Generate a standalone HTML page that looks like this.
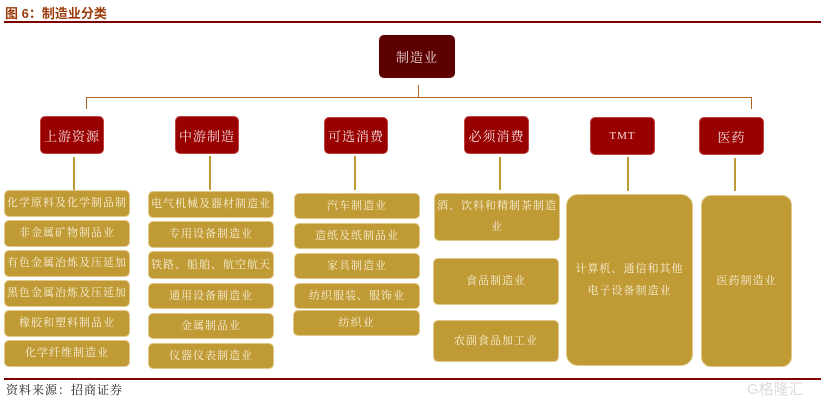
<!DOCTYPE html>
<html><head><meta charset="utf-8"><style>
body{margin:0;width:821px;height:401px;background:#fff;position:relative;overflow:hidden;font-family:"Liberation Serif","Noto Serif CJK SC",serif}
.a{position:absolute;box-sizing:border-box;display:flex;align-items:center;justify-content:center;text-align:center}
.r{background:#990000;color:#f4dede;border-radius:5px;font-size:13px;border:1px solid #c04040;letter-spacing:1px}
.g{background:#c09a35;color:#f7efd6;border-radius:5px;font-size:11px;border:1px solid #e0c98a;line-height:21px;padding:0 1px;letter-spacing:1px}
.v{position:absolute;width:2px;background:#c09a35}
.l{position:absolute;background:#b0621e}
</style></head><body>
<div style="position:absolute;left:5px;top:3px;font-family:'Liberation Sans','Noto Sans CJK SC',sans-serif;font-weight:bold;font-size:13px;color:#9a3a0a">图 6：制造业分类</div>
<div style="position:absolute;left:4px;top:21px;width:817px;height:2px;background:#7f0000"></div>

<div class="a" style="left:379px;top:35px;width:76px;height:43px;background:#5c0000;color:#f0dede;border-radius:5px;font-size:13px;letter-spacing:1px">制造业</div>
<div class="l" style="left:418px;top:85px;width:1px;height:13px"></div>
<div class="l" style="left:86px;top:97px;width:666px;height:1px"></div>
<div class="l" style="left:86px;top:97px;width:1px;height:12px"></div>
<div class="l" style="left:751px;top:97px;width:1px;height:12px"></div>

<div class="a r" style="left:40px;top:116px;width:64px;height:38px">上游资源</div>
<div class="a r" style="left:175px;top:116px;width:64px;height:38px">中游制造</div>
<div class="a r" style="left:324px;top:117px;width:64px;height:37px">可选消费</div>
<div class="a r" style="left:464px;top:116px;width:65px;height:38px">必须消费</div>
<div class="a r" style="left:590px;top:117px;width:65px;height:38px;font-size:11px">TMT</div>
<div class="a r" style="left:699px;top:117px;width:65px;height:38px">医药</div>

<div class="v" style="left:73px;top:157px;height:33px"></div>
<div class="v" style="left:209px;top:156px;height:34px"></div>
<div class="v" style="left:354px;top:156px;height:34px"></div>
<div class="v" style="left:499px;top:157px;height:33px"></div>
<div class="v" style="left:627px;top:157px;height:34px"></div>
<div class="v" style="left:734px;top:158px;height:33px"></div>

<div class="a g" style="left:4px;top:190px;width:126px;height:27px">化学原料及化学制品制</div>
<div class="a g" style="left:4px;top:220px;width:126px;height:27px">非金属矿物制品业</div>
<div class="a g" style="left:4px;top:250px;width:126px;height:27px">有色金属冶炼及压延加</div>
<div class="a g" style="left:4px;top:280px;width:126px;height:27px">黑色金属冶炼及压延加</div>
<div class="a g" style="left:4px;top:310px;width:126px;height:27px">橡胶和塑料制品业</div>
<div class="a g" style="left:4px;top:340px;width:126px;height:27px">化学纤维制造业</div>

<div class="a g" style="left:148px;top:191px;width:126px;height:27px">电气机械及器材制造业</div>
<div class="a g" style="left:148px;top:221px;width:126px;height:27px">专用设备制造业</div>
<div class="a g" style="left:148px;top:251px;width:126px;height:28px">铁路、船舶、航空航天</div>
<div class="a g" style="left:148px;top:283px;width:126px;height:26px">通用设备制造业</div>
<div class="a g" style="left:148px;top:313px;width:126px;height:26px">金属制品业</div>
<div class="a g" style="left:148px;top:343px;width:126px;height:26px">仪器仪表制造业</div>

<div class="a g" style="left:294px;top:193px;width:126px;height:26px">汽车制造业</div>
<div class="a g" style="left:294px;top:223px;width:126px;height:26px">造纸及纸制品业</div>
<div class="a g" style="left:294px;top:253px;width:126px;height:26px">家具制造业</div>
<div class="a g" style="left:294px;top:283px;width:126px;height:26px">纺织服装、服饰业</div>
<div class="a g" style="left:293px;top:310px;width:127px;height:26px">纺织业</div>

<div class="a g" style="left:434px;top:193px;width:126px;height:48px">酒、饮料和精制茶制造业</div>
<div class="a g" style="left:433px;top:258px;width:126px;height:47px">食品制造业</div>
<div class="a g" style="left:433px;top:320px;width:126px;height:42px">农副食品加工业</div>

<div class="a g" style="left:566px;top:194px;width:127px;height:172px;border-radius:12px;padding:0 4px;line-height:22px">计算机、通信和其他电子设备制造业</div>
<div class="a g" style="left:701px;top:195px;width:91px;height:172px;border-radius:10px">医药制造业</div>

<div style="position:absolute;left:4px;top:378px;width:817px;height:2px;background:#7f0000"></div>
<div style="position:absolute;left:6px;top:381px;font-size:12px;color:#222;letter-spacing:1px">资料来源：招商证券</div>
<div style="position:absolute;left:747px;top:378px;font-family:'Liberation Sans','Noto Sans CJK SC',sans-serif;font-size:15px;color:#ddd">G格隆汇</div>
</body></html>
